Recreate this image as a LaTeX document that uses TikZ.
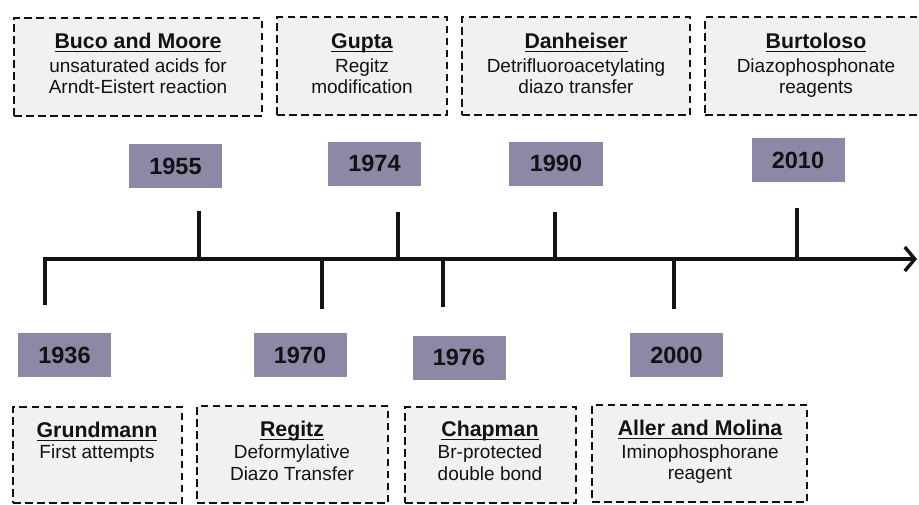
\documentclass[tikz,border=0pt]{standalone}
\usepackage{fontspec}
\setmainfont{Liberation Sans}
\usetikzlibrary{arrows.meta}
\definecolor{boxfill}{RGB}{241,241,241}
\definecolor{yearfill}{RGB}{140,136,166}
\definecolor{ink}{RGB}{18,18,18}
\newcommand\ttlu[1]{\setbox0\hbox{#1}\rlap{\rule[-4.3pt]{\wd0}{1.6pt}}\box0}
\begin{document}
\begin{tikzpicture}[x=1pt,y=-1pt,
 evbox/.style={draw=ink, fill=boxfill, dash pattern=on 7.5pt off 4.5pt, line width=2.2pt, inner sep=0pt},
 yearbox/.style={fill=yearfill, minimum width=93pt, minimum height=44pt, inner sep=0pt, font=\fontsize{23.5}{23.5}\selectfont\bfseries, text=ink},
 ttl/.style={anchor=base, font=\fontsize{21.3}{21.3}\selectfont\bfseries, text=ink, inner sep=0pt},
 bdy/.style={anchor=base, font=\fontsize{19}{19}\selectfont, text=ink, inner sep=0pt},
 axisline/.style={line width=3.4pt, draw=ink, line join=miter},
 tickline/.style={line width=3.4pt, draw=ink}]
\useasboundingbox (0,0) rectangle (919,504);
\clip (0,0) rectangle (919,504);

% top event boxes
\node[evbox, minimum width=248pt, minimum height=98pt] (bmbox) at (138,67) {};
\node[evbox, minimum width=170pt, minimum height=98pt] (gubox) at (362,66) {};
\node[evbox, minimum width=228pt, minimum height=98pt] (dabox) at (576,66) {};
\node[evbox, minimum width=225pt, minimum height=98pt] (bubox) at (817.5,66) {};

\node[ttl] (bmt) at (138,48) {\ttlu{Buco and Moore}};
\node[bdy] (bm1) at (138,72) {unsaturated acids for};
\node[bdy] (bm2) at (138,93) {Arndt-Eistert reaction};

\node[ttl] (gut) at (362,48) {\ttlu{Gupta}};
\node[bdy] (gu1) at (362,72) {Regitz};
\node[bdy] (gu2) at (362,93) {modification};

\node[ttl] (dat) at (576,48) {\ttlu{Danheiser}};
\node[bdy] (da1) at (576,72) {Detrifluoroacetylating};
\node[bdy] (da2) at (576,93) {diazo transfer};

\node[ttl] (but) at (816,48) {\ttlu{Burtoloso}};
\node[bdy] (bu1) at (816,72) {Diazophosphonate};
\node[bdy] (bu2) at (816,93) {reagents};

% bottom event boxes
\node[evbox, minimum width=169pt, minimum height=96pt] (grbox) at (97.5,455) {};
\node[evbox, minimum width=191pt, minimum height=97pt] (rebox) at (292.5,454.5) {};
\node[evbox, minimum width=171pt, minimum height=96pt] (chbox) at (490.5,455) {};
\node[evbox, minimum width=215pt, minimum height=97pt] (ambox) at (699.5,453.5) {};

\node[ttl] (grt) at (97,437) {\ttlu{Grundmann}};
\node[bdy] (gr1) at (97,458) {First attempts};

\node[ttl] (ret) at (292,436) {\ttlu{Regitz}};
\node[bdy] (re1) at (292,458) {Deformylative};
\node[bdy] (re2) at (292,480) {Diazo Transfer};

\node[ttl] (cht) at (490,436) {\ttlu{Chapman}};
\node[bdy] (ch1) at (490,458) {Br-protected};
\node[bdy] (ch2) at (490,480) {double bond};

\node[ttl] (amt) at (700,435) {\ttlu{Aller and Molina}};
\node[bdy] (am1) at (700,458) {Iminophosphorane};
\node[bdy] (am2) at (700,479) {reagent};

% year boxes
\node[yearbox] (y1955) at (175.5,166) {1955};
\node[yearbox] (y1974) at (374.5,163.5) {1974};
\node[yearbox, minimum width=94pt] (y1990) at (556,163.5) {1990};
\node[yearbox] (y2010) at (798,160) {2010};
\node[yearbox] (y1936) at (64.5,355) {1936};
\node[yearbox] (y1970) at (300,355) {1970};
\node[yearbox] (y1976) at (459,357.5) {1976};
\node[yearbox] (y2000) at (676.5,355) {2000};

% axis and ticks
\coordinate (t1936) at (45,305);
\coordinate (a1936) at (45,259);
\coordinate (axend) at (917,259);
\draw[axisline, -{Straight Barb[length=10pt,width=24pt]}] (t1936) -- (a1936) -- (axend);

\coordinate (a1955) at (199,259);  \coordinate (t1955) at (199,211);
\coordinate (a1970) at (322,259);  \coordinate (t1970) at (322,309);
\coordinate (a1974) at (398,259);  \coordinate (t1974) at (398,212);
\coordinate (a1976) at (443,259);  \coordinate (t1976) at (443,307);
\coordinate (a1990) at (555,259);  \coordinate (t1990) at (555,212);
\coordinate (a2000) at (674,259);  \coordinate (t2000) at (674,309);
\coordinate (a2010) at (797,259);  \coordinate (t2010) at (797,208);
\foreach \y in {1955,1970,1974,1976,1990,2000,2010}
  \draw[tickline] (a\y) -- (t\y);
\end{tikzpicture}
\end{document}
